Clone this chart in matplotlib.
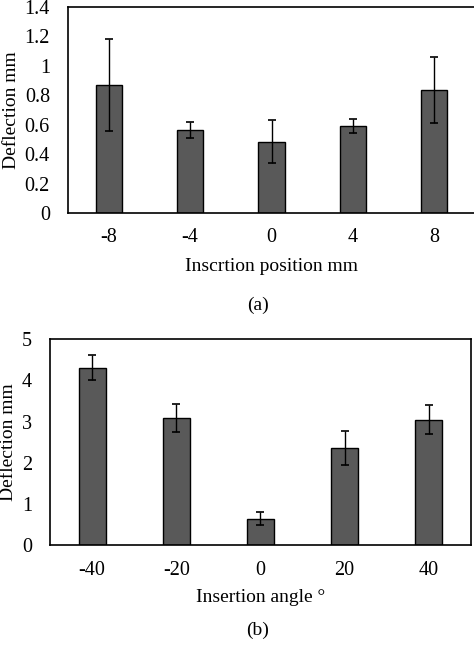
import matplotlib
matplotlib.use('Agg')
import matplotlib.pyplot as plt

# data
pos_labels = ['-8', '-4', '0', '4', '8']
pos_defl = [0.87, 0.565, 0.485, 0.59, 0.835]
pos_err = [0.31, 0.055, 0.148, 0.05, 0.222]

ang_labels = ['-40', '-20', '0', '20', '40']
ang_defl = [4.31, 3.08, 0.65, 2.36, 3.05]
ang_err = [0.31, 0.34, 0.15, 0.41, 0.35]

plt.rcParams['font.family'] = ['Liberation Serif', 'DejaVu Serif']
plt.rcParams['font.size'] = 14

fig = plt.figure(figsize=(4.74, 6.68), dpi=100)
ax1 = fig.add_axes([0.1435, 0.6811, 0.8586, 0.3088])
ax2 = fig.add_axes([0.1055, 0.1837, 0.8876, 0.3084])

def draw(ax, labels, vals, errs, ylim, yticks, ytl, xlabel, ylab_x, xlab_y):
    x = range(len(labels))
    ax.bar(x, vals, width=0.32, color='#595959', edgecolor='black', linewidth=1.0, zorder=2)
    ax.errorbar(x, vals, yerr=errs, fmt='none', ecolor='black', elinewidth=1.0,
                capsize=2.8, capthick=1.2, zorder=3)
    ax.set_xlim(-0.5, len(labels) - 0.5)
    ax.set_ylim(*ylim)
    ax.set_yticks(yticks)
    ax.set_yticklabels(ytl)
    ax.set_xticks(list(x))
    ax.set_xticklabels(labels)
    ax.tick_params(axis='both', length=0, labelsize=14.5)
    ax.tick_params(axis='x', pad=11)
    ax.tick_params(axis='y', pad=13)
    for s in ax.spines.values():
        s.set_linewidth(1.2)
        s.set_color('black')
    ax.set_ylabel('Deflection mm')
    ax.yaxis.set_label_coords(ylab_x, 0.5)
    ax.set_xlabel(xlabel, va='top')
    ax.xaxis.set_label_coords(0.5, xlab_y)

draw(ax1, pos_labels, pos_defl, pos_err, (0, 1.4),
     [0, 0.2, 0.4, 0.6, 0.8, 1.0, 1.2, 1.4],
     ['0', '0.2', '0.4', '0.6', '0.8', '1', '1.2', '1.4'],
     'Inscrtion position mm', -0.117, -0.218)
draw(ax2, ang_labels, ang_defl, ang_err, (0, 5),
     [0, 1, 2, 3, 4, 5], ['0', '1', '2', '3', '4', '5'],
     'Insertion angle °', -0.079, -0.214)

fig.text(258 / 474, 1 - 305 / 668, '(a)', ha='center', va='center')
fig.text(258 / 474, 1 - 630 / 668, '(b)', ha='center', va='center')

fig.savefig('out.png', dpi=100)
